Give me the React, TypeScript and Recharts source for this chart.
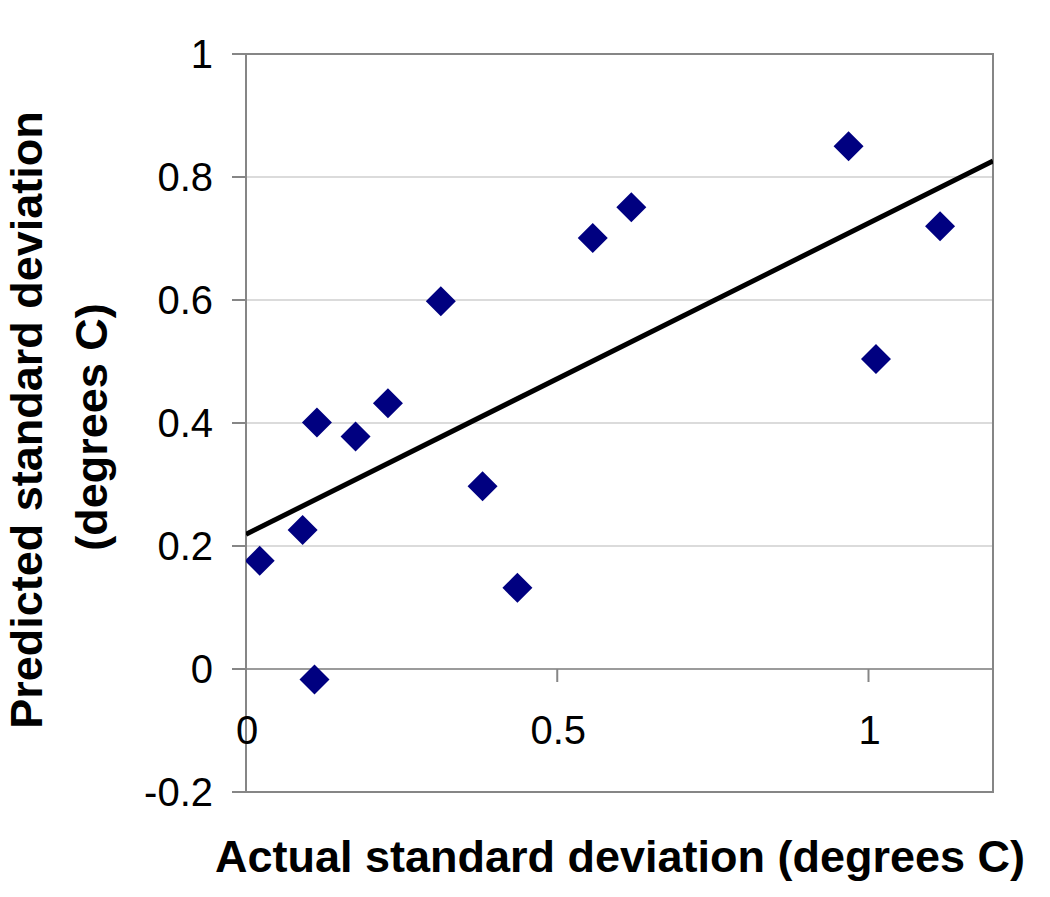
import React from "react";
import {
  ScatterChart,
  Scatter,
  XAxis,
  YAxis,
  CartesianGrid,
  ReferenceArea,
  ReferenceLine,
  Label,
} from "recharts";

// values
const actualSd = [0.022, 0.091, 0.114, 0.11, 0.176, 0.228, 0.313, 0.38, 0.436, 0.557, 0.619, 0.968, 1.012, 1.115];
const predictedSd = [0.176, 0.226, 0.401, -0.017, 0.378, 0.432, 0.598, 0.297, 0.132, 0.701, 0.751, 0.85, 0.504, 0.72];

// fitted trend line, endpoints as drawn
const trendX = [0, 1.2];
const trendY = [0.219, 0.826];

const xTicks = [0, 0.5, 1];
const yTicks = [-0.2, 0, 0.2, 0.4, 0.6, 0.8, 1];

const X_MIN = 0;
const X_MAX = 1.2;
const Y_MIN = -0.2;
const Y_MAX = 1;

const W = 1050;
const H = 897;
const PLOT_TOP = 54;
const PLOT_BOTTOM = 792;
const FONT = '"Liberation Sans", Arial, Helvetica, sans-serif';
const AXIS_GREY = "#868686";

const points = actualSd.map((x, i) => ({ x, y: predictedSd[i] }));
const trend = trendX.map((x, i) => ({ x, y: trendY[i] }));

// y pixel of the value 0, where the x axis crosses
const zeroY = PLOT_TOP + ((PLOT_BOTTOM - PLOT_TOP) * (Y_MAX - 0)) / (Y_MAX - Y_MIN);

const Diamond = (props: any) => {
  const { cx, cy } = props;
  const r = 15;
  return (
    <path
      d={`M${cx},${cy - r}L${cx + r},${cy}L${cx},${cy + r}L${cx - r},${cy}Z`}
      fill="#000080"
    />
  );
};

const XTick = (props: any) => {
  const { x, payload } = props;
  return (
    <g>
      <line x1={x} x2={x} y1={zeroY} y2={zeroY + 13} stroke={AXIS_GREY} strokeWidth={2} />
      <text x={x + 1} y={zeroY + 75} textAnchor="middle" fontSize={40} fontFamily={FONT} fill="#000">
        {payload.value}
      </text>
    </g>
  );
};

export default function App() {
  return (
    <div style={{ position: "absolute", left: 0, top: 0, background: "#fff" }}>
      <ScatterChart
        width={W}
        height={H}
        margin={{ top: PLOT_TOP, right: 57, bottom: 0, left: 0 }}
      >
        <CartesianGrid horizontal vertical={false} stroke="#cfcfcf" strokeWidth={1.5} />
        <XAxis
          type="number"
          dataKey="x"
          domain={[X_MIN, X_MAX]}
          ticks={xTicks}
          height={H - PLOT_BOTTOM}
          axisLine={false}
          tickLine={false}
          tick={<XTick />}
          allowDataOverflow
        >
          <Label
            content={() => (
              <text x={620} y={872} textAnchor="middle" fontSize={45} fontWeight="bold" fontFamily={FONT} fill="#000">
                Actual standard deviation (degrees C)
              </text>
            )}
          />
        </XAxis>
        <YAxis
          type="number"
          dataKey="y"
          domain={[Y_MIN, Y_MAX]}
          ticks={yTicks}
          width={246}
          axisLine={{ stroke: AXIS_GREY, strokeWidth: 2 }}
          tickLine={{ stroke: AXIS_GREY, strokeWidth: 2 }}
          tickSize={14}
          tickMargin={19}
          tick={{ fontSize: 40, fill: "#000", fontFamily: FONT }}
          tickFormatter={(v: number) => String(v)}
          allowDataOverflow
        >
          <Label
            content={() => (
              <g fontSize={45} fontWeight="bold" fontFamily={FONT} fill="#000">
                <text x={42} y={420} textAnchor="middle" transform="rotate(-90, 42, 420)">
                  Predicted standard deviation
                </text>
                <text x={107} y={427} textAnchor="middle" transform="rotate(-90, 107, 427)">
                  (degrees C)
                </text>
              </g>
            )}
          />
        </YAxis>
        <ReferenceArea
          x1={X_MIN}
          x2={X_MAX}
          y1={Y_MIN}
          y2={Y_MAX}
          fill="none"
          fillOpacity={0}
          stroke={AXIS_GREY}
          strokeWidth={2}
        />
        <ReferenceLine y={0} stroke={AXIS_GREY} strokeWidth={1.5} />
        <Scatter
          data={trend}
          line={{ stroke: "#000", strokeWidth: 5 }}
          shape={() => <g />}
          isAnimationActive={false}
        />
        <Scatter data={points} shape={<Diamond />} isAnimationActive={false} />
      </ScatterChart>
    </div>
  );
}
